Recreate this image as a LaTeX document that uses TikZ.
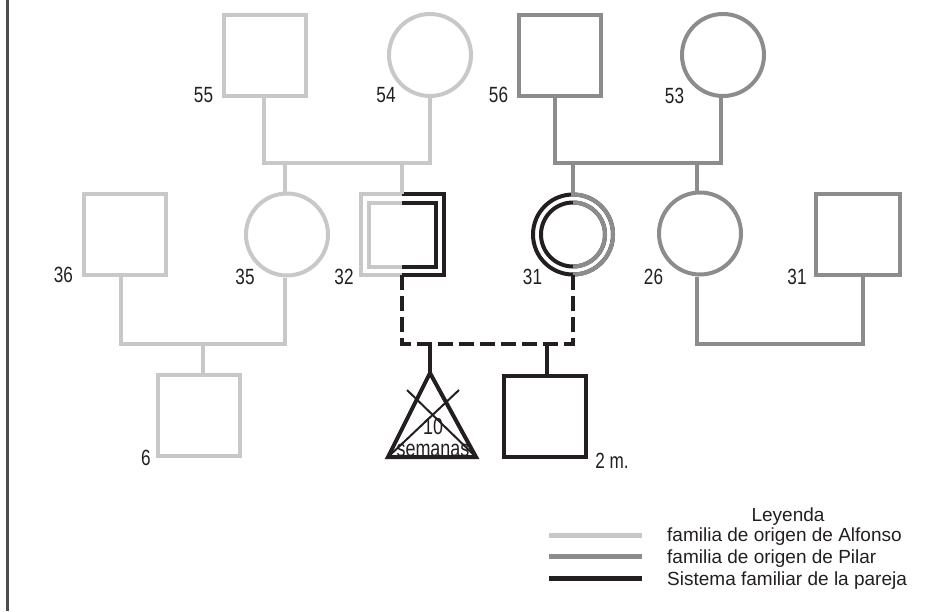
\documentclass[tikz,border=0pt]{standalone}
\usepackage{fontspec}
\setmainfont{Liberation Sans}
\newfontfamily\lblfont{Liberation Sans}[FakeStretch=0.78]
\definecolor{alf}{HTML}{C8C8C8}
\definecolor{pil}{HTML}{8C8C8C}
\definecolor{ink}{HTML}{231F20}
\definecolor{frame}{HTML}{4D4D4D}
\tikzset{
  male/.style={rectangle, draw, line width=4pt, minimum width=82pt, minimum height=81pt, inner sep=0pt},
  female/.style={circle, draw, line width=4pt, minimum size=82pt, inner sep=0pt},
  hollow/.style={inner sep=0pt, outer sep=0pt},
  link/.style={line width=4pt, line join=miter},
  couple/.style={link, draw=ink, dash pattern=on 15pt off 6pt},
  lbl/.style={font=\lblfont\fontsize{22}{24}\selectfont, text=ink, inner sep=0pt},
  trilbl/.style={font=\lblfont\fontsize{23}{24}\selectfont, text=ink, inner sep=0pt},
  legtxt/.style={font=\fontsize{19}{22}\selectfont, text=ink, inner sep=0pt},
  swatch/.style={line width=4.5pt}
}
\begin{document}
\begin{tikzpicture}[x=1pt, y=-1pt, line join=miter]
\useasboundingbox (0,0) rectangle (952,611);
% left frame rule
\draw[frame, line width=3pt] (7,0) -- (7,611);

% grandparents
\node[male, draw=alf] (n55) at (265,55.5) {};
\node[female, draw=alf] (n54) at (430,55) {};
\node[male, draw=pil] (n56) at (559.5,55.5) {};
\node[female, draw=pil] (n53) at (723,55) {};

% middle generation
\node[male, draw=alf] (n36) at (124.5,234.5) {};
\node[female, draw=alf] (n35) at (287,234.5) {};
\node[hollow, rectangle, minimum width=83pt, minimum height=80.5pt] (n32) at (402,234.5) {};
\node[hollow, rectangle, minimum width=67pt, minimum height=64.5pt] (n32i) at (402,234.8) {};
\node[hollow, circle, minimum size=80pt] (n31) at (573,234.5) {};
\node[female, draw=pil] (n26) at (700,233.5) {};
\node[male, draw=pil, minimum width=84pt] (n31b) at (858,234.5) {};

% children
\node[male, draw=alf] (n6) at (199,415.5) {};
\node[male, draw=ink] (n2m) at (545,416.5) {};
\coordinate (tri) at (430,373);

% Alfonso: square split light gray / black, double outline
\draw[alf, line width=4pt] (n32.north) -| (n32.south west) -- (n32.south);
\draw[ink, line width=4pt] (n32.north) -| (n32.south east) -- (n32.south);
\draw[alf, line width=4pt] (n32i.north) -| (n32i.south west) -- (n32i.south);
\draw[ink, line width=4pt] (n32i.north) -| (n32i.south east) -- (n32i.south);

% Pilar: circle split black / gray, double outline
\draw[ink, line width=4pt] (n31.center) circle[radius=40pt];
\draw[ink, line width=4pt] (n31.center) circle[radius=32pt];
\begin{scope}
  \clip (573,180) rectangle (630,290);
  \draw[pil, line width=4pt] (n31.center) circle[radius=40pt];
  \draw[pil, line width=4pt] (n31.center) circle[radius=32pt];
\end{scope}

% lost pregnancy
\draw[ink, line width=4pt, line join=miter] (tri) -- (476,457) -- (388,457) -- cycle;
\draw[ink, line width=2pt] (407,390) -- (476,457);
\draw[ink, line width=2pt] (459,390) -- (388,457);
\node[trilbl] (t10) at (433,427) {10};
\node[trilbl] (tsem) at (433,450.5) {semanas};

% junction points of the partnership bars
\coordinate (barA) at (347,163);
\coordinate (barB) at (638,163);
\coordinate (barC) at (200,344);
\coordinate (barD) at (780,344);
\coordinate (barE) at (488,344);
\coordinate (d55) at ([xshift=-1pt]n55.south);
\coordinate (d56) at ([xshift=-4.5pt]n56.south);
\coordinate (d53) at ([xshift=-2pt]n53.south);
\coordinate (d35t) at ([xshift=-2pt]n35.north);
\coordinate (d35b) at ([xshift=-2pt]n35.south);
\coordinate (d36) at ([xshift=-4pt]n36.south);
\coordinate (d6) at ([xshift=4pt]n6.north);
\coordinate (d26t) at ([xshift=-3pt]n26.north);
\coordinate (d26b) at ([xshift=-3pt]n26.south);
\coordinate (d31b) at ([xshift=5pt]n31b.south);
\coordinate (d2m) at ([xshift=2pt]n2m.north);

% family of origin of Alfonso
\draw[link, alf] (d55) |- (barA) -| (n54.south);
\draw[link, alf] (d35t |- barA) -- (d35t);
\draw[link, alf] (n32.north |- barA) -- (n32.north);
\draw[link, alf] (d36) |- (barC) -| (d35b);
\draw[link, alf] (d6 |- barC) -- (d6);

% family of origin of Pilar
\draw[link, pil] (d56) |- (barB) -| (d53);
\draw[link, pil] (n31.north |- barB) -- ([yshift=-2pt]n31.north);
\draw[link, pil] (d26t |- barB) -- (d26t);
\draw[link, pil] (d26b) |- (barD) -| (d31b);

% the couple and their children
\draw[couple] (n32.south) |- (barE) -| ([yshift=2pt]n31.south);
\draw[link, ink] (tri |- barE) -- (tri);
\draw[link, ink] (d2m |- barE) -- (d2m);

% ages
\node[lbl] (a55) at (203.5,95) {55};
\node[lbl] (a54) at (386,95) {54};
\node[lbl] (a56) at (498.5,95) {56};
\node[lbl] (a53) at (674.5,95.5) {53};
\node[lbl] (a36) at (63.5,275) {36};
\node[lbl] (a35) at (245,277) {35};
\node[lbl] (a32) at (344,277) {32};
\node[lbl] (a31) at (532.5,277) {31};
\node[lbl] (a26) at (653.5,277) {26};
\node[lbl] (a31b) at (797,277) {31};
\node[lbl] (a6) at (146,458) {6};
\node[lbl] (a2m) at (612,461) {2 m.};

% legend
\node[legtxt, anchor=base] (legT) at (788,521) {Leyenda};
\node[legtxt, anchor=base west] (legA) at (667,541.7) {familia de origen de Alfonso};
\node[legtxt, anchor=base west] (legB) at (667,563) {familia de origen de Pilar};
\node[legtxt, anchor=base west] (legC) at (667,585) {Sistema familiar de la pareja};
\draw[swatch, alf] (549,535.5) -- (641.5,535.5);
\draw[swatch, pil] (549,556.5) -- (641.5,556.5);
\draw[swatch, ink] (549,578.5) -- (641.5,578.5);
\end{tikzpicture}
\end{document}
